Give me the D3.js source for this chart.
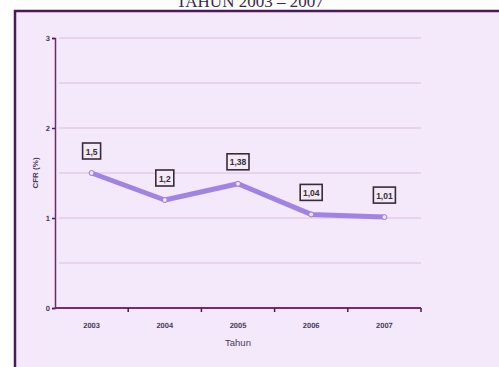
<!DOCTYPE html>
<html>
<head>
<meta charset="utf-8">
<script src="https://cdn.jsdelivr.net/npm/d3@7"></script>
<style>
  body { margin: 0; background: #fff; }
</style>
</head>
<body>
<div id="chart"></div>
<script>
// Data
const years = ["2003", "2004", "2005", "2006", "2007"];
const cfrValues = [1.5, 1.2, 1.38, 1.04, 1.01];
const cfrLabels = ["1,5", "1,2", "1,38", "1,04", "1,01"];
const yTicks = [0, 1, 2, 3];
const gridValues = [0.5, 1, 1.5, 2, 2.5, 3];

const width = 499;
const height = 367;
const marginTop = 38;
const marginLeft = 55;
const plotRight = 421;
const plotBottom = 308;

const svg = d3.create("svg")
    .attr("width", width)
    .attr("height", height)
    .attr("viewBox", [0, 0, width, height]);

// Page background and frame
svg.append("rect")
    .attr("x", 15).attr("y", 11)
    .attr("width", width - 15).attr("height", height - 11)
    .attr("fill", "#f4e9fb");

svg.append("path")
    .attr("d", `M15,${height} V11 H${width}`)
    .attr("fill", "none")
    .attr("stroke", "#4a1b55")
    .attr("stroke-width", 2.5);

// Title (cut at top, as in the scan)
svg.append("text")
    .attr("x", 250)
    .attr("y", 7)
    .attr("text-anchor", "middle")
    .attr("font-family", "Liberation Serif")
    .attr("font-size", "17px")
    .attr("fill", "#3a2a4a")
    .text("TAHUN 2003 – 2007");

// Scales
const x = d3.scaleBand()
    .domain(years)
    .range([marginLeft, plotRight]);

const y = d3.scaleLinear([0, 3], [plotBottom, marginTop]);

// Gridlines
svg.append("g")
    .selectAll("line")
    .data(gridValues)
    .join("line")
    .attr("x1", marginLeft + 4)
    .attr("x2", plotRight)
    .attr("y1", d => y(d))
    .attr("y2", d => y(d))
    .attr("stroke", "#e6cbe6")
    .attr("stroke-width", 1.5);

const tickFont = g => g
    .attr("font-family", "Liberation Sans")
    .attr("font-weight", "bold")
    .attr("font-size", "7.5px")
    .attr("fill", "#4a3a5a")
    .attr("text-rendering", "geometricPrecision");

// Y axis
svg.append("g")
    .attr("transform", `translate(${marginLeft},0)`)
    .call(d3.axisLeft(y).tickValues(yTicks).tickSize(3).tickPadding(2).tickFormat(d3.format("d")))
    .call(g => g.select(".domain").attr("stroke", "#6b2c6e").attr("stroke-width", 1.5))
    .call(g => g.selectAll(".tick line").attr("stroke", "#4a1b55").attr("stroke-width", 1.5))
    .call(g => g.selectAll(".tick text").call(tickFont));

// X axis with boundary ticks
const xAxis = svg.append("g")
    .attr("transform", `translate(0,${plotBottom})`);

xAxis.append("line")
    .attr("x1", marginLeft).attr("x2", plotRight)
    .attr("stroke", "#7a2a6e").attr("stroke-width", 1.8);

xAxis.selectAll(".xtick")
    .data(years)
    .join("line")
    .attr("class", "xtick")
    .attr("x1", d => x(d) + x.bandwidth())
    .attr("x2", d => x(d) + x.bandwidth())
    .attr("y1", 0).attr("y2", 4)
    .attr("stroke", "#4a1b55").attr("stroke-width", 1.5);

xAxis.selectAll(".xlabel")
    .data(years)
    .join("text")
    .attr("class", "xlabel")
    .attr("x", d => x(d) + x.bandwidth() / 2)
    .attr("y", 20)
    .attr("text-anchor", "middle")
    .call(tickFont)
    .text(d => d);

// Axis titles
svg.append("text")
    .attr("x", x("2005") + x.bandwidth() / 2)
    .attr("y", 346)
    .attr("text-anchor", "middle")
    .attr("font-family", "Liberation Sans")
    .attr("font-size", "9.5px")
    .attr("fill", "#4a3a5a")
    .text("Tahun");

svg.append("text")
    .attr("transform", `translate(38,${y(1.5)}) rotate(-90)`)
    .attr("text-anchor", "middle")
    .attr("font-family", "Liberation Sans")
    .attr("font-size", "8px")
    .attr("font-weight", "bold")
    .attr("fill", "#4a3a5a")
    .text("CFR (%)");

// Line
const points = years.map((d, i) => ({ year: d, value: cfrValues[i], label: cfrLabels[i] }));

const line = d3.line()
    .x(d => x(d.year) + x.bandwidth() / 2)
    .y(d => y(d.value));

svg.append("path")
    .datum(points)
    .attr("d", line)
    .attr("fill", "none")
    .attr("stroke", "#a183e6")
    .attr("stroke-width", 5)
    .attr("stroke-linejoin", "round");

svg.append("g")
    .selectAll("circle")
    .data(points)
    .join("circle")
    .attr("cx", d => x(d.year) + x.bandwidth() / 2)
    .attr("cy", d => y(d.value))
    .attr("r", 2.5)
    .attr("fill", "#f0e0f5")
    .attr("stroke", "#9a7ad8")
    .attr("stroke-width", 1);

// Value label boxes
const labels = svg.append("g")
    .selectAll("g")
    .data(points)
    .join("g")
    .attr("transform", d => `translate(${x(d.year) + x.bandwidth() / 2},${y(d.value) - 22})`);

labels.append("rect")
    .attr("x", d => d.label.length > 3 ? -11 : -9)
    .attr("y", -8)
    .attr("width", d => d.label.length > 3 ? 22 : 18)
    .attr("height", 16)
    .attr("fill", "#f2eaf4")
    .attr("stroke", "#3a2a3a")
    .attr("stroke-width", 1.6);

labels.append("text")
    .attr("y", 3.5)
    .attr("text-anchor", "middle")
    .attr("font-family", "Liberation Sans")
    .attr("font-weight", "bold")
    .attr("font-size", "8.5px")
    .attr("fill", "#3a2a3a")
    .text(d => d.label);

document.getElementById("chart").appendChild(svg.node());
</script>
</body>
</html>
